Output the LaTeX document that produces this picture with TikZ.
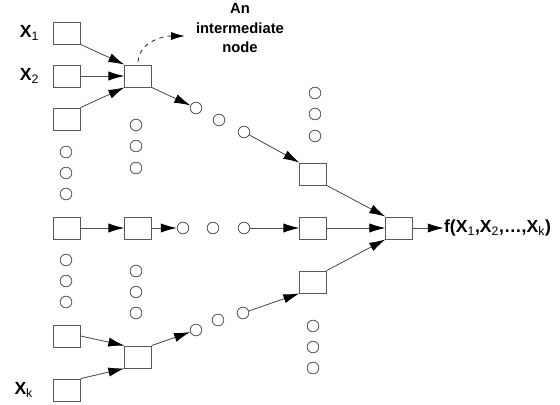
\documentclass[tikz,border=0pt]{standalone}
\usepackage{fontspec}
\setmainfont{Liberation Sans}
\usetikzlibrary{arrows.meta,positioning}

\newcommand{\ix}[1]{\textsubscript{\mdseries #1}}

\begin{document}
\begin{tikzpicture}[
  unit/.style={draw=black!65, line width=0.6pt, minimum width=0.66cm, minimum height=0.55cm, inner sep=0pt},
  dot/.style={draw=black!65, line width=0.6pt, circle, minimum size=0.29cm, inner sep=0pt},
  var/.style={font=\fontsize{12.5}{15}\selectfont\bfseries, inner sep=0pt},
  flow/.style={draw=black!70, line width=0.6pt, -{Latex[length=4mm, width=2.3mm, color=black]}}]
\useasboundingbox (0,0) rectangle (14,10.1);

% input layer
\node[unit] (in1) at (1.675,9.275) {};
\node[unit] (in2) at (1.675,8.2)   {};
\node[unit] (in3) at (1.675,7.125) {};
\node[unit] (inm) at (1.675,4.4)   {};
\node[unit] (in4) at (1.675,1.7)   {};
\node[unit] (ink) at (1.675,0.35)  {};
\node[dot] (ia1) at (1.65,6.3)   {};
\node[dot] (ia2) at (1.65,5.775) {};
\node[dot] (ia3) at (1.65,5.25)  {};
\node[dot] (ib1) at (1.65,3.6)   {};
\node[dot] (ib2) at (1.65,3.075) {};
\node[dot] (ib3) at (1.65,2.55)  {};
\node[var, left=0.35cm of in1] (x1) {X\ix{1}};
\node[var, left=0.35cm of in2] (x2) {X\ix{2}};
\node[var, left=0.5cm of ink]  (xk) {X\ix{k}};

% second layer
\node[unit] (mid1) at (3.45,8.2)   {};
\node[unit] (mid2) at (3.45,4.4)   {};
\node[unit] (mid3) at (3.45,1.175) {};
\node[dot] (ma1) at (3.4,6.975) {};
\node[dot] (ma2) at (3.4,6.45)  {};
\node[dot] (ma3) at (3.4,5.9)   {};
\node[dot] (mb1) at (3.4,3.325) {};
\node[dot] (mb2) at (3.4,2.8)   {};
\node[dot] (mb3) at (3.4,2.275) {};

% omitted layers
\node[dot] (da1) at (4.9,7.4)   {};
\node[dot] (da2) at (5.475,7.1) {};
\node[dot] (da3) at (6.1,6.8)   {};
\node[dot] (db1) at (4.575,4.4) {};
\node[dot] (db2) at (5.325,4.4) {};
\node[dot] (db3) at (6.1,4.4)   {};
\node[dot] (dc1) at (4.9,1.85)  {};
\node[dot] (dc2) at (5.45,2.1)  {};
\node[dot] (dc3) at (6.075,2.275) {};

% last hidden layer
\node[unit] (hid1) at (7.825,5.75) {};
\node[unit] (hid2) at (7.825,4.4)  {};
\node[unit] (hid3) at (7.825,3.05) {};
\node[dot] (ha1) at (7.875,7.775) {};
\node[dot] (ha2) at (7.875,7.25)  {};
\node[dot] (ha3) at (7.875,6.7)   {};
\node[dot] (hb1) at (7.825,1.95)  {};
\node[dot] (hb2) at (7.825,1.425) {};
\node[dot] (hb3) at (7.825,0.9)   {};

% output
\node[unit] (fin) at (9.975,4.4) {};
\node[var, anchor=west, right=0.78cm of fin] (out) {f(X\ix{1},X\ix{2},\dots,X\ix{k})};

% annotation
\node[font=\fontsize{10.5}{13.6}\selectfont\bfseries, align=center] (note) at (6.0,9.4) {An\\intermediate\\node};
\coordinate (tip) at (4.62,9.2);
\draw[dashed, draw=black!80, line width=0.6pt, -{Latex[length=3.4mm, width=2mm, color=black]}] ([yshift=2pt]mid1.north) to[out=85, in=180] (tip);

\draw[flow] (in1.south east) -- (mid1.north west);
\draw[flow] (in2) -- (mid1);
\draw[flow] (in3.north east) -- (mid1.south west);
\draw[flow] (inm) -- (mid2);
\draw[flow] (in4.east) -- (mid3.north west);
\draw[flow] (ink.north east) -- (mid3.south west);

\draw[flow] (mid1.south east) -- (da1);
\draw[flow] (mid2) -- (db1);
\draw[flow] (mid3.north east) -- (dc1);

\draw[flow] (da3) -- (hid1.north west);
\draw[flow] (db3) -- (hid2);
\draw[flow] (dc3) -- (hid3.south west);

\draw[flow] (hid1.south east) -- (fin.north west);
\draw[flow] (hid2) -- (fin);
\draw[flow] (hid3.north east) -- (fin.south west);
\draw[flow] (fin) -- (out);
\end{tikzpicture}
\end{document}
